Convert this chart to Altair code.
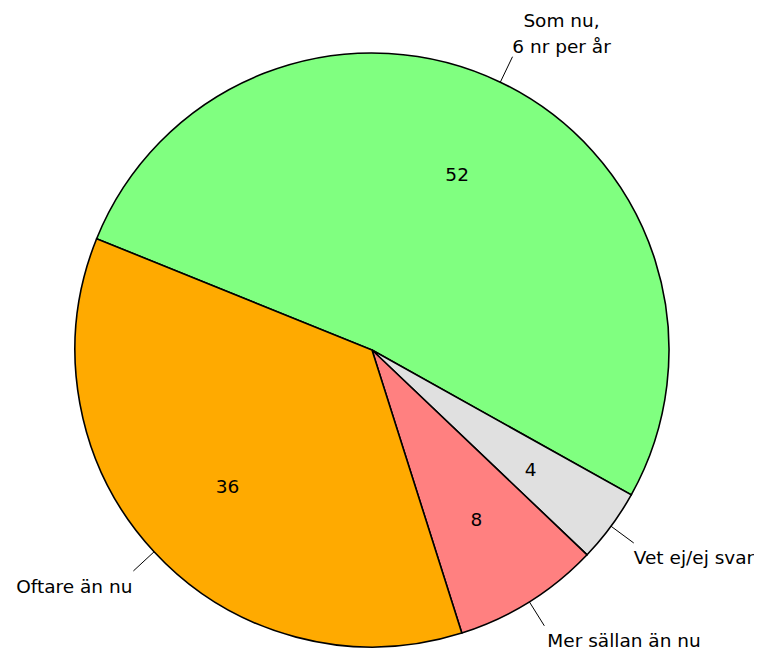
import math
import altair as alt
import pandas as pd

# Data (percent)
categories = ["Som nu,\n6 nr per år", "Vet ej/ej svar", "Mer sällan än nu", "Oftare än nu"]
values = [52, 4, 8, 36]
colors = ["#80FF80", "#E0E0E0", "#FF8080", "#FFAA00"]
slice_order = [0, 1, 2, 3]

START = math.radians(292)          # angle where the first slice begins (clockwise from 12 o'clock)
CX, CY, R = 364, 342, 297          # pie centre and radius in chart pixels
FONT = "DejaVu Sans"
FS = 18.5

df = pd.DataFrame({"category": categories, "value": values, "order": slice_order})

theta = alt.Theta("value:Q", stack=True,
                  scale=alt.Scale(range=[START, START + 2 * math.pi]))
base = alt.Chart(df).encode(
    theta=theta,
    order=alt.Order("order:Q"),
    detail="category:N",
)

pie = base.mark_arc(radius=R, stroke="black", strokeWidth=1.6).encode(
    x=alt.value(CX), y=alt.value(CY),
    color=alt.Color("category:N", scale=alt.Scale(domain=categories, range=colors), legend=None),
)

inner = base.mark_text(radius=197, font=FONT, fontSize=FS, align="center",
                       baseline="middle", dy=3, color="black").encode(
    x=alt.value(CX), y=alt.value(CY), text="value:Q")

xs = alt.Scale(domain=[-1, 1], range=[CX - R, CX + R])
ys = alt.Scale(domain=[-1, 1], range=[CY + R, CY - R])

geo = alt.Chart(df).transform_window(
    cum="sum(value)", sort=[alt.SortField("order")]
).transform_joinaggregate(total="sum(value)").transform_calculate(
    a=f"{START} + 2*PI*(datum.cum - datum.value/2)/datum.total",
    x0="sin(datum.a)", y0="cos(datum.a)",
    x1="1.095*sin(datum.a)", y1="1.095*cos(datum.a)",
)

ticks = geo.mark_rule(color="black", strokeWidth=1).encode(
    x=alt.X("x0:Q", scale=xs, axis=None),
    y=alt.Y("y0:Q", scale=ys, axis=None),
    x2="x1:Q", y2="y1:Q",
)

label_styles = [
    dict(align="center", baseline="alphabetic", dx=49, dy=-30),
    dict(align="left", baseline="alphabetic", dx=0, dy=21),
    dict(align="left", baseline="alphabetic", dx=3, dy=21),
    dict(align="right", baseline="alphabetic", dx=-1, dy=22),
]

labels = []
for o, st in zip(slice_order, label_styles):
    labels.append(
        geo.transform_filter(alt.datum.order == o).mark_text(
            font=FONT, fontSize=FS, lineBreak="\n", lineHeight=26, color="black", **st
        ).encode(
            x=alt.X("x1:Q", scale=xs, axis=None),
            y=alt.Y("y1:Q", scale=ys, axis=None),
            text="category:N",
        )
    )

chart = alt.layer(pie, inner, ticks, *labels).properties(
    width=746, height=642,
    autosize=alt.AutoSizeParams(type="none"),
    padding=0,
).configure_view(stroke=None)

chart.save("out.html", embed_options={"renderer": "svg", "actions": False})
